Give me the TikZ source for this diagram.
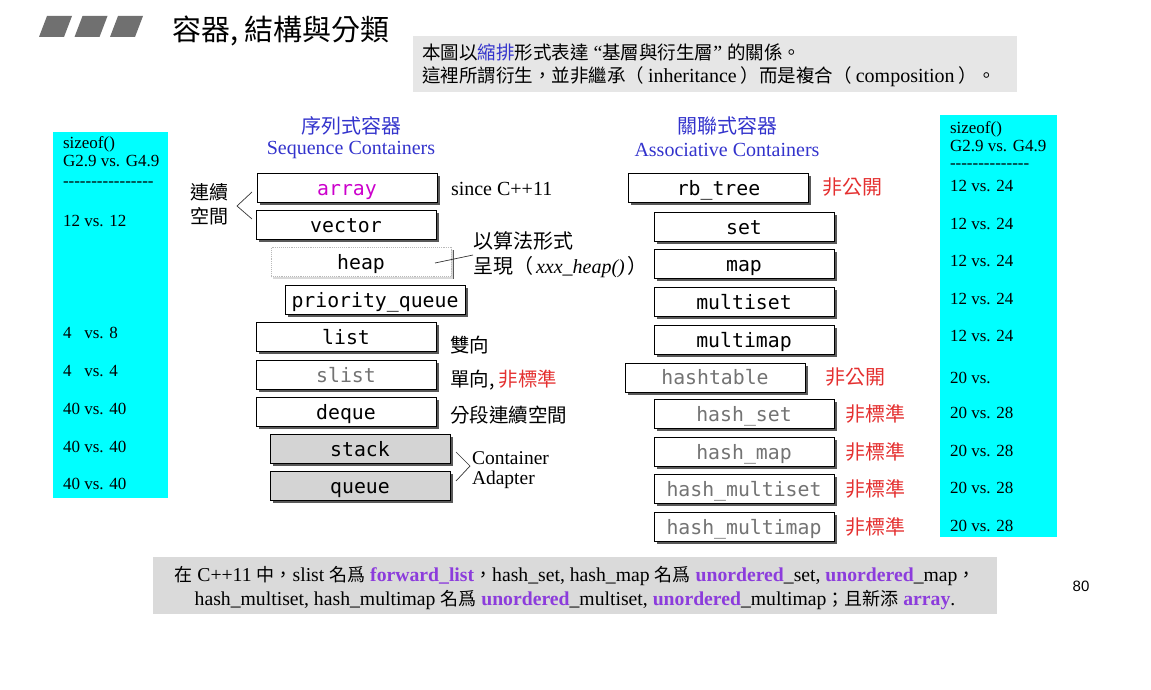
\documentclass[tikz,border=0pt]{standalone}
\usepackage{fontspec}
\setmainfont{Liberation Serif}
\newfontfamily\cjk{Noto Sans CJK TC}
\newfontfamily\monof{DejaVu Sans Mono}
\newfontfamily\sansf{Liberation Sans}
\usetikzlibrary{shadows}
\definecolor{cyanbox}{RGB}{0,255,255}
\definecolor{headblue}{RGB}{51,51,204}
\definecolor{notered}{RGB}{228,48,48}
\definecolor{arraymag}{RGB}{204,0,204}
\definecolor{purp}{RGB}{140,60,220}
\definecolor{notegray}{RGB}{230,230,230}
\definecolor{footgray}{RGB}{218,218,218}
\definecolor{bargray}{RGB}{112,112,112}
\newcommand{\zhtxt}[1]{{\cjk #1}}
\newcommand{\purpw}[1]{\textcolor{purp}{\textbf{#1}}}
\newcommand{\dashrow}[1]{\foreach \i in {1,...,#1}{{-}}}
\begin{document}
\begin{tikzpicture}[x=1pt,y=-1pt,
  every node/.style={inner sep=0pt, outer sep=0pt},
  cbox/.style={draw=black, line width=0.9pt, fill=white,
    minimum width=180pt, minimum height=29pt,
    text height=16pt, text depth=2pt,
    font=\monof\fontsize{19.8}{19.8}\selectfont,
    general shadow={fill=black!65, shadow xshift=2.5pt, shadow yshift=-2.5pt}},
  faintbox/.style={cbox, draw=gray!55, densely dotted,
    general shadow={fill=black!15, shadow xshift=2pt, shadow yshift=-2pt}},
  adapterbox/.style={cbox, fill=black!17},
  dimtext/.style={text=black!55},
  sizetext/.style={anchor=west, font=\fontsize{17}{17}\selectfont},
  lbl/.style={anchor=west, font=\cjk\fontsize{19.5}{19.5}\selectfont},
  redlbl/.style={lbl, text=notered, font=\cjk\fontsize{20}{20}\selectfont},
  heading/.style={text=headblue, font=\fontsize{20}{20}\selectfont},
  headingzh/.style={text=headblue, font=\cjk\fontsize{20}{20}\selectfont},
  bracket/.style={line width=0.7pt, black!80}]
\useasboundingbox (0,0) rectangle (1151,690);

% title bars and title
\foreach \k in {0,1,2}{
  \fill[bargray] ({39+35.5*\k},37) -- ({64+35.5*\k},37) -- ({72+35.5*\k},16) -- ({47+35.5*\k},16) -- cycle;
}
\node (title) at (281,31) {\cjk\fontsize{29}{29}\selectfont 容器, 結構與分類};

% explanatory note
\node[fill=notegray, minimum width=604pt, minimum height=56pt] (note) at (715,64) {};
\node[anchor=west, font=\fontsize{20}{20}\selectfont] (noteA) at (422,52)
  {\zhtxt{\fontsize{18.5}{18.5}\selectfont 本圖以\textcolor{headblue}{縮排}形式表達} “\zhtxt{\fontsize{18.5}{18.5}\selectfont 基層與衍生層}” \zhtxt{\fontsize{18.5}{18.5}\selectfont 的關係。}};
\node[anchor=west, font=\fontsize{20}{20}\selectfont] (noteB) at (422,77)
  {\zhtxt{\fontsize{18.5}{18.5}\selectfont 這裡所謂衍生，並非繼承（}\hspace{4pt}inheritance\hspace{4pt}\zhtxt{\fontsize{18.5}{18.5}\selectfont ）而是複合（}\hspace{4pt}composition\hspace{4pt}\zhtxt{\fontsize{18.5}{18.5}\selectfont ）。}};

% sizeof columns
\node[fill=cyanbox, minimum width=115pt, minimum height=366pt] (leftsz) at (110.5,315) {};
\node[fill=cyanbox, minimum width=117pt, minimum height=422pt] (rightsz) at (998.5,326) {};

\node[sizetext] (l0) at (63,144) {sizeof()};
\node[sizetext] (l1) at (63,161) {G2.9 vs. G4.9};
\node[sizetext] (l2) at (63,184) {\dashrow{16}};
\node[sizetext] (l3) at (63,221) {12 vs. 12};
\node[sizetext] (l4) at (63,333) {4\hphantom{2} vs. 8};
\node[sizetext] (l5) at (63,371) {4\hphantom{2} vs. 4};
\node[sizetext] (l6) at (63,409) {40 vs. 40};
\node[sizetext] (l7) at (63,447) {40 vs. 40};
\node[sizetext] (l8) at (63,484) {40 vs. 40};

\node[sizetext] (r0) at (950,129) {sizeof()};
\node[sizetext] (r1) at (950,146) {G2.9 vs. G4.9};
\node[sizetext] (r2) at (950,166) {\dashrow{14}};
\node[sizetext] (r3) at (950,186) {12 vs. 24};
\node[sizetext] (r4) at (950,224) {12 vs. 24};
\node[sizetext] (r5) at (950,261) {12 vs. 24};
\node[sizetext] (r6) at (950,299) {12 vs. 24};
\node[sizetext] (r7) at (950,336) {12 vs. 24};
\node[sizetext] (r8) at (950,378) {20 vs.};
\node[sizetext] (r9) at (950,413) {20 vs. 28};
\node[sizetext] (r10) at (950,451) {20 vs. 28};
\node[sizetext] (r11) at (950,488) {20 vs. 28};
\node[sizetext] (r12) at (950,526) {20 vs. 28};

% sequence containers
\node[headingzh] (seqzh) at (351,126) {序列式容器};
\node[heading] (seqen) at (351,150) {Sequence Containers};

\node[cbox, text=arraymag] (arr) at (347,188) {array};
\node[cbox] (vec) at (346,225) {vector};
\node[faintbox] (heap) at (361,262) {heap};
\node[cbox] (pq) at (375,300) {priority\_queue};
\node[cbox] (lst) at (346,337) {list};
\node[cbox, dimtext] (slst) at (346,375) {slist};
\node[cbox] (deq) at (346,412) {deque};
\node[adapterbox] (stk) at (360,449) {stack};
\node[adapterbox] (que) at (360,486) {queue};

\node[anchor=west, font=\fontsize{20}{20}\selectfont] (since) at (451,189) {since C++11};
\node[font=\cjk\fontsize{19}{24}\selectfont, align=center] (contig) at (209,204) {連續\\空間};
\coordinate (brA) at (252,192);
\coordinate (brB) at (237,206);
\coordinate (brC) at (252,219);
\draw[bracket] (brA) -- (brB) -- (brC);

\node[anchor=west, font=\fontsize{20}{25}\selectfont, align=left] (algo) at (473,255)
  {\zhtxt{以算法形式}\\\zhtxt{呈現（}\hspace{3pt}\textit{xxx\_heap()}\hspace{3pt}\zhtxt{）}};
\coordinate (heapin) at (435,263);
\draw[line width=0.7pt, black!80] (heapin) -- (algo.west);

\node[lbl] (bidir) at (450,345) {雙向};
\node[lbl] (unidir) at (450,380) {單向, \textcolor{notered}{非標準}};
\node[lbl] (segm) at (450,415) {分段連續空間};

\node[anchor=west, font=\fontsize{19.5}{19.5}\selectfont, align=left] (adapt) at (472,470) {Container\\Adapter};
\coordinate (adA) at (456,452);
\coordinate (adB) at (470,466);
\coordinate (adC) at (456,481);
\draw[bracket] (adA) -- (adB) -- (adC);

% associative containers
\node[headingzh] (asszh) at (727,126) {關聯式容器};
\node[heading] (assen) at (727,150) {Associative Containers};

\node[cbox] (rbt) at (718.5,188) {rb\_tree};
\node[cbox] (set) at (744,227) {set};
\node[cbox] (map) at (744,264) {map};
\node[cbox] (mset) at (744,302) {multiset};
\node[cbox] (mmap) at (744,340) {multimap};
\node[cbox, dimtext] (htab) at (715,377.5) {hashtable};
\node[cbox, dimtext] (hset) at (744,414) {hash\_set};
\node[cbox, dimtext] (hmap) at (744,452) {hash\_map};
\node[cbox, dimtext] (hmset) at (744,489) {hash\_multiset};
\node[cbox, dimtext] (hmmap) at (744,527) {hash\_multimap};

\node[redlbl] (rbtnote) at (822,187) {非公開};
\node[redlbl] (htabnote) at (825,377) {非公開};
\node[redlbl] (hsetnote) at (845,414) {非標準};
\node[redlbl] (hmapnote) at (845,452) {非標準};
\node[redlbl] (hmsetnote) at (845,489) {非標準};
\node[redlbl] (hmmapnote) at (845,527) {非標準};

% C++11 renaming note
\node[fill=footgray, minimum width=844pt, minimum height=57pt] (foot) at (575,585.5) {};
\node[font=\fontsize{19.7}{19.7}\selectfont] (footA) at (575,576)
  {\zhtxt{\fontsize{18}{18}\selectfont 在} C++11 \zhtxt{\fontsize{18}{18}\selectfont 中，}slist \zhtxt{\fontsize{18}{18}\selectfont 名爲} \purpw{forward\_list}\zhtxt{\fontsize{18}{18}\selectfont ，}hash\_set, hash\_map \zhtxt{\fontsize{18}{18}\selectfont 名爲} \purpw{unordered}\_set, \purpw{unordered}\_map\zhtxt{\fontsize{18}{18}\selectfont ，}};
\node[font=\fontsize{19.7}{19.7}\selectfont] (footB) at (575,600)
  {hash\_multiset, hash\_multimap \zhtxt{\fontsize{18}{18}\selectfont 名爲} \purpw{unordered}\_multiset, \purpw{unordered}\_multimap\zhtxt{\fontsize{18}{18}\selectfont ；且新添} \purpw{array}.};

\node[font=\sansf\fontsize{15}{15}\selectfont] (page) at (1081,586) {80};
\end{tikzpicture}
\end{document}
